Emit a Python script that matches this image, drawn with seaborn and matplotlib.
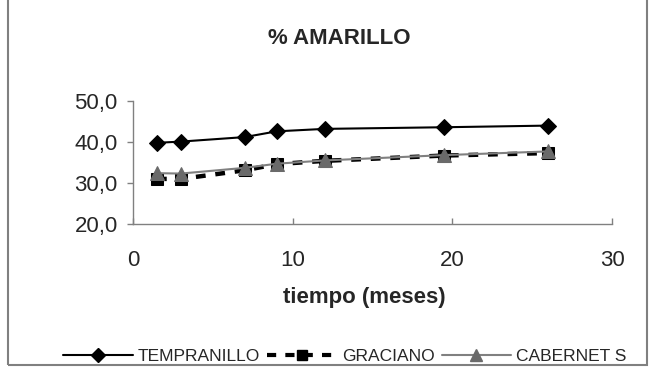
import matplotlib
matplotlib.use("Agg")
import matplotlib.pyplot as plt
import seaborn as sns
import pandas as pd
from matplotlib.patches import Rectangle
from matplotlib.lines import Line2D

# ---- data ----
meses = [1.5, 3, 7, 9, 12, 19.5, 26]
tempranillo = [39.8, 40.1, 41.2, 42.6, 43.2, 43.6, 44.0]
graciano = [31.0, 31.0, 33.1, 34.6, 35.4, 36.7, 37.3]
cabernet = [32.4, 32.3, 33.7, 34.7, 35.5, 36.8, 37.7]
series_names = ["TEMPRANILLO", "GRACIANO", "CABERNET S"]
x_ticks = [0, 10, 20, 30]
y_ticks = [20, 30, 40, 50]
y_tick_labels = ["20,0", "30,0", "40,0", "50,0"]
title = "% AMARILLO"
x_label = "tiempo (meses)"

sns.set_style("white")
plt.rcParams["font.family"] = ["Liberation Sans", "DejaVu Sans"]

W, H = 658, 375
fig = plt.figure(figsize=(W / 100, H / 100), dpi=100)
ax = fig.add_axes([133 / W, 1 - 224 / H, 479 / W, 123 / H])

df = pd.DataFrame({"meses": meses, series_names[0]: tempranillo,
                   series_names[1]: graciano, series_names[2]: cabernet})

styles = {
    series_names[0]: dict(color="black", lw=1.5, marker="D", ms=8,
                          mfc="black", mec="black", ls="-"),
    series_names[1]: dict(color="black", lw=3.2, marker="s", ms=8,
                          mfc="black", mec="black", ls=(0, (2.2, 2.2))),
    series_names[2]: dict(color="#808080", lw=1.5, marker="^", ms=9.5,
                          mfc="#6a6a6a", mec="#6a6a6a", ls="-"),
}

handles = []
for name in series_names:
    st = styles[name]
    sns.lineplot(data=df, x="meses", y=name, ax=ax, color=st["color"],
                 linewidth=st["lw"], linestyle=st["ls"], marker=st["marker"],
                 markersize=st["ms"], markerfacecolor=st["mfc"],
                 markeredgecolor=st["mec"], legend=False, zorder=3)
    handles.append(Line2D([], [], color=st["color"], lw=st["lw"] if name != series_names[1] else 3.0,
                          ls=st["ls"], marker=st["marker"], ms=st["ms"] * 0.9,
                          mfc=st["mfc"], mec=st["mec"]))

ax.set_xlim(0, 30)
ax.set_ylim(20, 50)
ax.set_xticks(x_ticks)
ax.set_yticks(y_ticks)
ax.set_yticklabels(y_tick_labels)
ax.set_xlabel("")
ax.set_ylabel("")
for s in ["top", "right"]:
    ax.spines[s].set_visible(False)
for s in ["left", "bottom"]:
    ax.spines[s].set_color("#808080")
    ax.spines[s].set_linewidth(1.0)
ax.tick_params(axis="y", direction="out", length=4, width=1, color="#808080",
               labelsize=16, pad=7, left=True)
ax.tick_params(axis="x", direction="in", length=4, width=1, color="#808080",
               labelsize=16, pad=19, bottom=True)
ax.set_facecolor("white")

fig.text(339 / W, 1 - 38 / H, title, ha="center", va="center",
         fontsize=16, fontweight="bold")
fig.text(364 / W, 1 - 298 / H, x_label, ha="center", va="center",
         fontsize=16, fontweight="bold")

fig.legend(handles, series_names, loc="center", bbox_to_anchor=(345 / W, 1 - 356 / H),
           ncol=3, frameon=False, fontsize=12.5, handlelength=4.0,
           handletextpad=0.3, columnspacing=0.4, borderpad=0, borderaxespad=0)

fig.patches.append(Rectangle((8, 10), 639, 400, transform=None, fill=False,
                             edgecolor="#808080", lw=1.5))

fig.savefig("out.png", dpi=100, facecolor="white")
